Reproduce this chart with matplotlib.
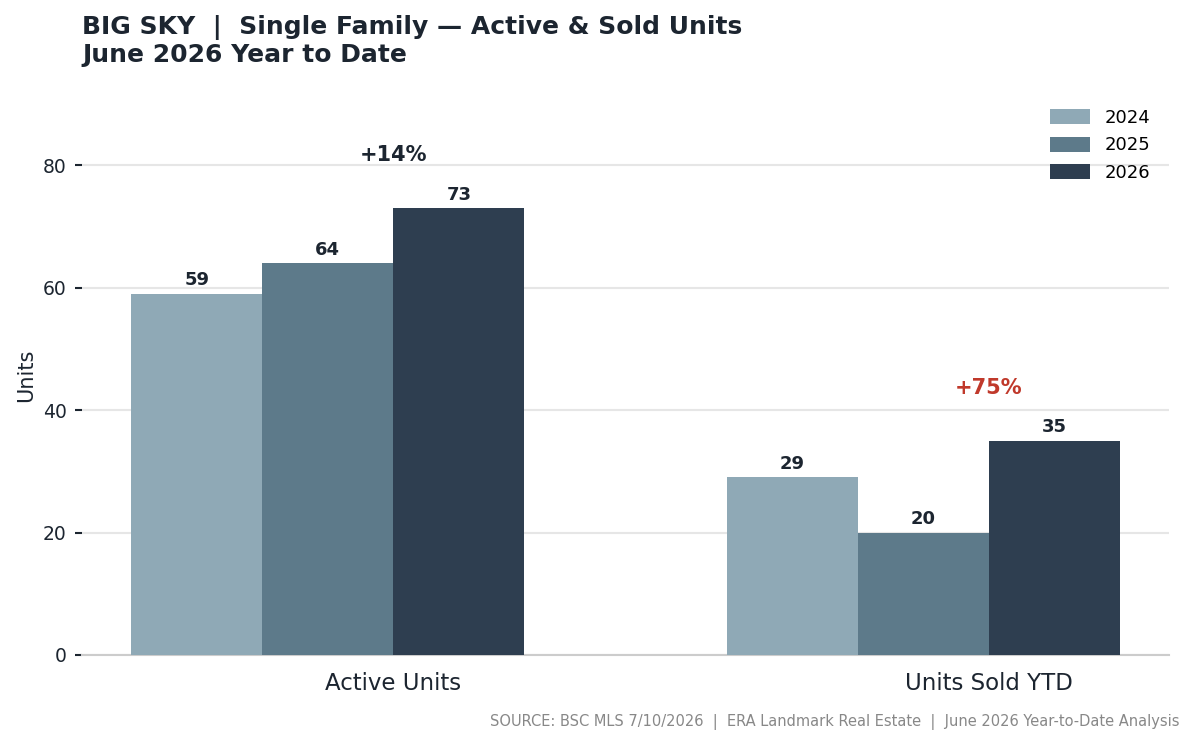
import matplotlib
matplotlib.use("Agg")
import matplotlib.pyplot as plt
import numpy as np

categories = ["Active Units", "Units Sold YTD"]
years = ["2024", "2025", "2026"]
values_2024 = [59, 29]
values_2025 = [64, 20]
values_2026 = [73, 35]
pct_labels = ["+14%", "+75%"]
pct_colors = ["#1c2530", "#c0392b"]
bar_colors = ["#8fa9b6", "#5d7a8a", "#2e3e50"]
text_dark = "#1c2530"

plt.rcParams['font.family'] = ['DejaVu Sans']

fig = plt.figure(figsize=(11.94, 7.45), dpi=100)
ax = fig.add_axes([82/1194, 1-655/745, (1169-82)/1194, (655-96.1)/745])

x = np.arange(len(categories))
w = 0.22
series = [values_2024, values_2025, values_2026]
offsets = [-1.5, -0.5, 0.5]
for vals, off, col, yr in zip(series, offsets, bar_colors, years):
    bars = ax.bar(x + off * w, vals, w, color=col, label=yr, zorder=3)
    ax.bar_label(bars, padding=3, fontsize=13, fontweight='bold', color=text_dark)

for i in range(len(categories)):
    top = max(values_2024[i], values_2025[i], values_2026[i])
    ax.text(x[i], top + 8.6, pct_labels[i], ha='center', va='center',
            fontsize=15, fontweight='bold', color=pct_colors[i])

ax.set_ylim(0, 91.25)
ax.set_yticks([0, 20, 40, 60, 80])
ax.set_xticks(x)
ax.set_xticklabels(categories, fontsize=16.5, color=text_dark)
ax.tick_params(axis='x', length=0, pad=12)
ax.tick_params(axis='y', labelsize=13.5, labelcolor=text_dark, length=5, width=1.5, color=text_dark, pad=6)
ax.set_ylabel("Units", fontsize=15, color=text_dark, labelpad=5)
ax.grid(axis='y', color='#e6e6e6', linewidth=1.5, zorder=0)
ax.set_axisbelow(True)
for s in ['top', 'right', 'left']:
    ax.spines[s].set_visible(False)
ax.spines['bottom'].set_color('#cccccc')
ax.spines['bottom'].set_linewidth(1.5)

ax.legend(loc='upper right', frameon=False, fontsize=13, handlelength=2.2, handleheight=0.9,
          labelspacing=0.54, bbox_to_anchor=(0.9893, 0.9905), borderaxespad=0.0)

fig.text(82/1194, 1-41/745, "BIG SKY  |  Single Family — Active & Sold Units\nJune 2026 Year to Date",
         ha='left', va='center', fontsize=18, fontweight='bold', color=text_dark, linespacing=1.15)
fig.text(1179/1194, 1-722/745,
         "SOURCE: BSC MLS 7/10/2026  |  ERA Landmark Real Estate  |  June 2026 Year-to-Date Analysis",
         ha='right', va='center', fontsize=10.5, color='#888888')

fig.savefig("out.png", dpi=100)
